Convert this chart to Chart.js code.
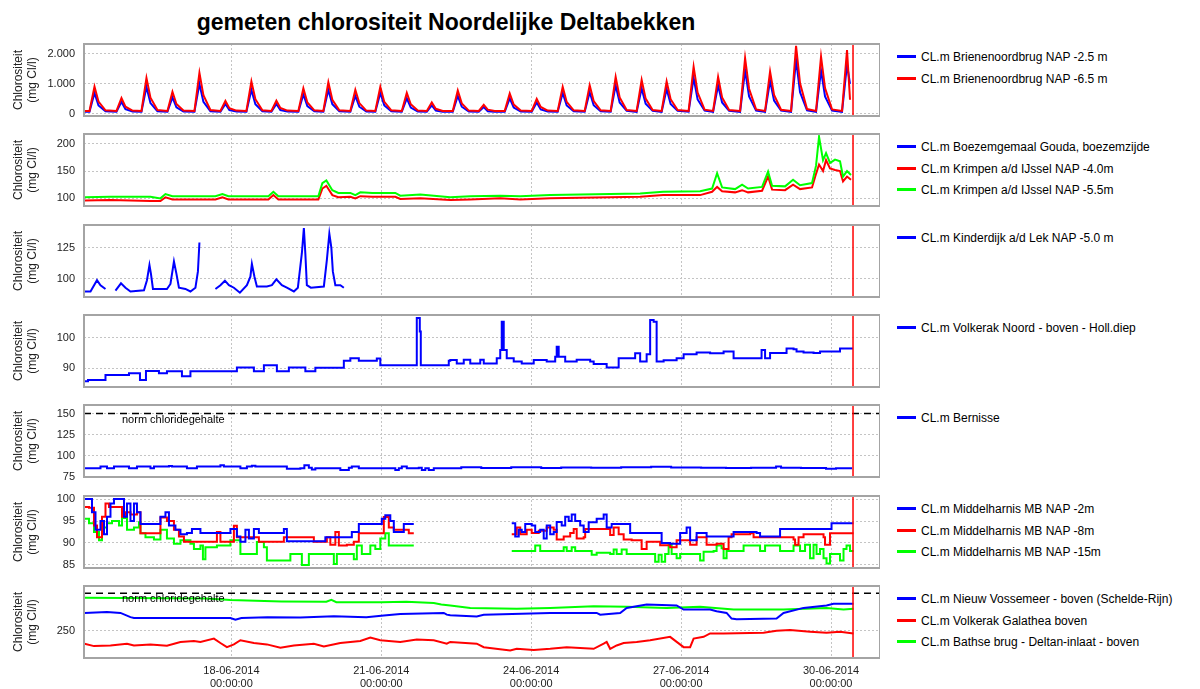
<!DOCTYPE html>
<html>
<head>
<meta charset="utf-8">
<script src="https://cdn.jsdelivr.net/npm/chart.js@4.4.1/dist/chart.umd.min.js"></script>
<style>
    body { margin: 0; width: 1200px; height: 689px; background: #fff; position: relative; overflow: hidden;
           font-family: "Liberation Sans", Arial, sans-serif; }
    #title { position: absolute; left: 0; top: 8px; width: 892px; text-align: center;
             font-size: 23px; font-weight: bold; line-height: 28px; color: #000; }
    .leg { position: absolute; left: 897px; height: 16px; line-height: 16px; font-size: 12px; color: #000; white-space: nowrap; }
    .leg i { display: inline-block; width: 19px; height: 3px; vertical-align: middle; margin: -2px 5px 0 0; }
</style>
</head>
<body>
<div id="title">gemeten chlorositeit Noordelijke Deltabekken</div>
<script>
(function () {
    'use strict';

    // time axis: days since 15-06-2014 00:00
    const dayMin = 0.05, dayMax = 15.98, nowDay = 15.44;
    const xTickDays = [3, 6, 9, 12, 15];
    const xTickLabels = [
        ['18-06-2014', '00:00:00'], ['21-06-2014', '00:00:00'], ['24-06-2014', '00:00:00'],
        ['27-06-2014', '00:00:00'], ['30-06-2014', '00:00:00']
    ];

    // Brienenoordbrug
    const brienenT = [0.06,
        0.16, 0.26, 0.34, 0.48, 0.70, 0.80, 0.88, 1.02, 1.20, 1.30, 1.38, 1.52, 1.72, 1.82, 1.90, 2.04,
        2.26, 2.36, 2.44, 2.58, 2.78, 2.88, 2.96, 3.10, 3.30, 3.40, 3.48, 3.62, 3.80, 3.90, 3.98, 4.12,
        4.34, 4.44, 4.52, 4.66, 4.84, 4.94, 5.02, 5.16, 5.38, 5.48, 5.56, 5.70, 5.88, 5.98, 6.06, 6.20,
        6.41, 6.51, 6.59, 6.73, 6.91, 7.01, 7.09, 7.23, 7.43, 7.53, 7.61, 7.75, 7.95, 8.05, 8.13, 8.27,
        8.47, 8.57, 8.65, 8.79, 9.01, 9.11, 9.19, 9.33, 9.53, 9.63, 9.71, 9.85, 10.07, 10.17, 10.25, 10.39,
        10.59, 10.69, 10.77, 10.91, 11.11, 11.21, 11.29, 11.43, 11.61, 11.71, 11.79, 11.93,
        12.15, 12.25, 12.33, 12.47, 12.64, 12.74, 12.82, 12.96, 13.18, 13.28, 13.36, 13.50,
        13.68, 13.78, 13.86, 14.00, 14.20, 14.30, 14.38, 14.52, 14.70, 14.80, 14.88, 15.02,
        15.22, 15.32, 15.38];
    const brienen25 = [70,
        70, 700, 280, 90, 70, 400, 160, 80, 70, 900, 360, 90, 70, 550, 220, 80,
        70, 1000, 400, 90, 70, 330, 130, 80, 70, 800, 320, 90, 70, 330, 130, 80,
        70, 650, 260, 90, 70, 800, 320, 90, 70, 600, 240, 80, 70, 700, 280, 90,
        70, 520, 210, 80, 70, 280, 110, 70, 70, 600, 240, 80, 70, 230, 90, 70,
        70, 520, 210, 80, 70, 380, 150, 80, 70, 700, 280, 90, 70, 720, 290, 90,
        70, 950, 380, 100, 70, 850, 340, 100, 70, 830, 330, 100,
        70, 1200, 480, 110, 70, 950, 380, 100, 70, 1450, 580, 110,
        70, 1100, 440, 110, 70, 1800, 720, 120, 70, 1450, 580, 110,
        70, 1650, 1000];
    const brienen65 = [100,
        100, 910, 410, 120, 100, 530, 240, 110, 100, 1200, 540, 130, 100, 740, 330, 110,
        100, 1370, 620, 130, 100, 430, 190, 110, 100, 1080, 490, 120, 100, 440, 200, 110,
        100, 850, 380, 120, 100, 1050, 470, 120, 100, 800, 360, 110, 100, 900, 400, 120,
        100, 700, 320, 110, 100, 380, 170, 100, 100, 780, 350, 110, 100, 300, 140, 100,
        100, 680, 310, 110, 100, 500, 230, 110, 100, 900, 400, 120, 100, 950, 430, 120,
        100, 1230, 550, 130, 100, 1130, 510, 130, 100, 1080, 490, 130,
        100, 1570, 710, 140, 100, 1230, 550, 130, 100, 1860, 840, 150,
        100, 1410, 630, 140, 100, 2270, 1020, 160, 100, 1910, 860, 150,
        100, 2130, 470];

    // Krimpen a/d IJssel (Gouda has no data)
    const krimpenT = [0.06, 0.58, 1.38, 1.58, 1.68, 1.82, 2.68, 2.82, 2.94, 3.74, 3.84, 3.94, 4.74, 4.82, 4.90,
        5.02, 5.14, 5.38, 5.48, 5.58, 5.82, 6.28, 6.38, 6.78, 7.38, 7.78, 8.38, 8.78, 9.38, 9.98, 10.58,
        11.18, 11.64, 12.38, 12.62, 12.72, 12.82, 13.08, 13.22, 13.34, 13.62, 13.74, 13.82, 14.08, 14.24,
        14.38, 14.62, 14.70, 14.76, 14.84, 14.90, 14.98, 15.08, 15.18, 15.24, 15.32, 15.40];
    const krimpen55 = [102, 103, 103, 100, 108, 104, 104, 108, 104, 104, 112, 104, 104, 128, 133,
        115, 110, 110, 106, 111, 110, 110, 105, 107, 102, 104, 105, 104, 106, 107, 108,
        109, 112, 113, 118, 146, 120, 117, 125, 118, 121, 149, 123, 122, 134,
        124, 128, 160, 213, 170, 183, 165, 171, 168, 140, 150, 143];
    const krimpen40 = [96, 97, 95, 95, 102, 98, 98, 102, 98, 98, 106, 98, 98, 118, 123,
        106, 102, 103, 100, 104, 103, 103, 99, 100, 97, 98, 100, 98, 100, 101, 102,
        103, 106, 106, 112, 121, 113, 111, 115, 111, 114, 140, 116, 115, 125,
        117, 120, 145, 162, 150, 170, 155, 152, 150, 131, 140, 134];

    // Kinderdijk
    const kinderT = [0.06, 0.18, 0.31, 0.38, 0.48, 0.55, 0.68, 0.79, 0.88, 0.98, 1.25, 1.31, 1.36, 1.39, 1.43,
        1.71, 1.78, 1.85, 1.90, 1.95, 2.08, 2.18, 2.28, 2.33, 2.36, 2.6, 2.68, 2.78, 2.87, 2.95, 3.05, 3.17,
        3.31, 3.38, 3.41, 3.46, 3.51, 3.71, 3.81, 3.90, 4.01, 4.11, 4.25, 4.33, 4.41, 4.45, 4.48, 4.51,
        4.59, 4.85, 4.91, 4.96, 5.00, 5.03, 5.08, 5.18, 5.25];
    const kinderV = [90, 90, 99, 95, 92, null, 90.7, 96.5, 93, 90, 91, 99, 111, 104, 92,
        92, 96, 114, 104, 93, 92, 90, 93, 106, 129, null, 92, 95, 98.6, 95, 93, 89,
        95, 101.8, 112, 102, 94, 94, 95, 99.7, 95, 93, 90, 93, 120.5, 140.5, 120, 95,
        93, 94, 115, 136, 125, 106, 95, 95, 93];

    // Volkerak Noord
    const volkT = [0.06, 0.13, 0.48, 0.95, 1.17, 1.29, 1.55, 1.71, 2.01, 2.18, 3.11, 3.45, 3.65, 3.91, 4.15,
        4.48, 4.68, 5.25, 5.38, 5.55, 5.91, 5.98, 6.68, 6.71, 6.77, 6.79, 7.31, 7.35, 7.38, 7.51, 7.65,
        7.78, 7.98, 8.05, 8.31, 8.38, 8.41, 8.45, 8.51, 8.65, 8.81, 9.05, 9.31, 9.48, 9.51, 9.55, 9.68,
        9.91, 10.18, 10.25, 10.51, 10.71, 10.75, 11.08, 11.18, 11.31, 11.38, 11.45, 11.51, 11.65, 11.91,
        12.05, 12.31, 12.58, 12.85, 13.05, 13.58, 13.61, 13.68, 13.78, 14.05, 14.11, 14.25, 14.31, 14.45,
        14.65, 14.78, 15.18, 15.44];
    const volkV = [85.8, 86.2, 87.8, 88.4, 86.2, 89.1, 88.4, 89, 87.4, 89, 90.3, 89, 91, 89, 90.3,
        89, 90.2, 92.5, 93.3, 92.5, 93.2, 91, 91, 106.4, 102, 91, 91, 92.5, 92.7, 91.6, 92.8,
        91.6, 92.8, 91.6, 93.3, 96, 105.2, 96, 93.3, 92.2, 91.6, 92.7, 92.2, 93.8, 97, 93.8, 92.2,
        92.8, 92.2, 91.4, 90.3, 90.3, 93.3, 94.9, 92.2, 94.6, 105.8, 105.2, 92.2, 92.6, 93.3,
        94.6, 95.2, 94.9, 95.5, 93.3, 93.3, 96, 93.3, 95, 95, 96.5, 96.2, 95.5, 95.2,
        95, 95.5, 96.5, 96.5];

    // Bernisse
    const bernT = [0.06, 0.38, 0.51, 0.65, 0.95, 1.11, 1.38, 1.45, 1.75, 1.81, 2.11, 2.31, 2.78, 2.85, 3.18,
        3.31, 3.41, 3.48, 4.05, 4.11, 4.38, 4.46, 4.55, 4.61, 4.68, 5.11, 5.18, 5.35, 5.41, 5.55, 6.25,
        6.28, 6.35, 6.41, 6.51, 6.75, 6.81, 6.88, 6.95, 7.05, 7.38, 7.6, 8.0, 8.6, 9.2, 9.6, 10.2, 10.8,
        11.4, 11.8, 12.4, 12.9, 13.4, 13.9, 14.0, 14.4, 14.9, 15.1, 15.42];
    const bernV = [85.4, 87.4, 85.4, 87.4, 85.4, 87.4, 85.4, 87.4, 88.1, 87.4, 85.4, 87.4, 88.9, 87.4, 85.4,
        87.4, 88.3, 87.4, 87.4, 84.6, 85.4, 88.9, 86, 83.8, 85.4, 85.4, 83.4, 86, 87.4, 85.4, 85.4,
        83.4, 85.4, 87.4, 85.4, 86, 83.4, 85.4, 83.4, 85.4, 85.4, 86.5, 85.5, 86.5, 85.5, 86.3, 85.8, 86.5,
        87, 86.3, 86, 85.5, 86, 87.5, 86, 85.5, 84.8, 85.3, 85.3];
    const normBernisse = 150;

    // Middelharnis
    const mh2T = [0.06, 0.15, 0.21, 0.28, 0.38, 0.45, 0.51, 0.58, 0.65, 0.78, 0.85, 0.91, 0.98, 1.05, 1.11,
        1.18, 1.51, 1.58, 1.68, 1.75, 1.88, 1.98, 2.11, 2.21, 2.38, 2.91, 2.98, 3.11, 3.18, 3.28, 3.35,
        3.45, 3.55, 3.91, 4.05, 4.11, 4.78, 4.88, 5.31, 5.41, 5.55, 6.01, 6.08, 6.18, 6.25, 6.45, 6.65, 7.5,
        8.61, 8.68, 8.75, 8.81, 8.88, 9.01, 9.08, 9.18, 9.25, 9.31, 9.38, 9.45, 9.51, 9.61, 9.68, 9.75,
        9.81, 9.88, 9.98, 10.05, 10.15, 10.31, 10.45, 10.51, 10.61, 10.85, 10.98, 11.51, 11.61, 11.78,
        11.98, 12.11, 12.18, 12.31, 12.51, 13.05, 13.51, 13.58, 13.95, 13.98, 14.91, 15.01, 15.45];
    const mh2V = [100, 100, 97, 93, 95, 92, 96, 99, 100, 100, 96, 99, 95, 99, 97,
        94.3, 94.3, 96, 97, 94, 93, 92, 92.3, 93.2, 92.3, 92.3, 93.2, 91.5, 90.3, 93, 91,
        93.2, 92.3, 92.3, 93.2, 90.4, 90.4, 91.3, 91.3, 92.5, 94.3, 95.5, 96.3, 95, 92.5, 94.3, 94.3, null,
        94.5, 91.5, 93, 92.5, 94.3, 94, 92.5, 93, 91, 94, 92, 92.5, 94.8, 94, 96, 95,
        96.5, 95, 94, 92.5, 94.7, 95.5, 96.5, 93.5, 94.3, 94.3, 92.3, 92.3, 90, 89.8,
        92.3, 93.5, 90.6, 92.3, 91.5, 92.5, 92.3, 91.5, 91.5, 93.2, 93.2, 94.5, 94.5];
    const mh8T = [0.06, 0.15, 0.25, 0.31, 0.41, 0.48, 0.55, 0.71, 0.81, 0.88, 0.98, 1.11, 1.18, 1.45, 1.58,
        1.71, 1.85, 1.95, 2.05, 2.65, 2.71, 2.78, 2.98, 3.05, 3.11, 3.45, 3.55, 3.98, 4.05, 4.58, 4.65,
        4.91, 4.98, 5.08, 5.15, 5.31, 5.45, 5.55, 6.05, 6.15, 6.25, 6.55, 6.65, 7.5,
        8.61, 8.71, 8.78, 8.91, 9.01, 9.15, 9.31, 9.45, 9.51, 9.65, 9.78, 9.85, 9.91, 10.05, 10.08,
        10.51, 10.58, 10.65, 10.75, 10.85, 11.01, 11.21, 11.31, 11.51, 11.58, 11.78, 11.91, 12.05, 12.18,
        12.31, 12.51, 12.71, 12.85, 12.95, 13.01, 13.38, 13.45, 13.91, 14.25, 14.28, 14.35, 14.45, 14.85,
        14.88, 14.98, 15.45];
    const mh8V = [98.2, 98, 94, 91.3, 96, 99, 98.2, 98.2, 96, 97, 96.5, 97, 92.2, 92.2, 95.8,
        95, 93, 91.5, 90.3, 90.3, 92.5, 90.3, 90.3, 93.9, 91.3, 91.3, 90.3, 90.3, 91.3, 91.3, 90.3,
        91.3, 89.6, 92.5, 89.4, 89.6, 90.3, 92.2, 95.9, 93.5, 93, 92.2, 92.2, null,
        92, 93.5, 92, 93, 92.3, 92.8, 93.5, 93, 90.8, 91.5, 92.3, 93.2, 91, 91.3, 93.2,
        93.2, 91.8, 93.5, 92, 90.8, 90.6, 88.6, 90.3, 90.3, 89.5, 89, 90.6, 90.6, 89.6,
        91.3, 89.6, 89.8, 88.6, 91.3, 92, 92.2, 91.3, 91.3, 90.8, 89.6, 91.3, 92, 91.3,
        89.6, 92.2, 92.2];
    const mh15T = [0.06, 0.15, 0.25, 0.35, 0.41, 0.51, 0.61, 0.75, 0.81, 0.91, 1.05, 1.15, 1.18, 1.28, 1.45,
        1.58, 1.71, 1.85, 1.98, 2.18, 2.25, 2.38, 2.43, 2.48, 2.71, 2.98, 3.11, 3.18, 3.45, 3.51, 3.65,
        3.71, 3.98, 4.18, 4.38, 4.41, 4.5, 4.55, 4.98, 5.05, 5.11, 5.45, 5.51, 5.61, 5.78, 5.88, 5.98,
        6.08, 6.15, 6.65, 7.5,
        8.61, 9.01, 9.08, 9.18, 9.61, 9.65, 9.71, 9.81, 9.88, 10.18, 10.21, 10.31, 10.58, 10.65, 10.71,
        10.81, 10.91, 11.45, 11.48, 11.55, 11.61, 11.68, 11.75, 11.81, 11.91, 11.98, 12.35, 12.38, 12.45,
        12.65, 12.71, 12.81, 12.85, 12.91, 13.18, 13.25, 13.51, 13.58, 13.68, 13.91, 13.98, 14.18, 14.25,
        14.38, 14.48, 14.58, 14.65, 14.71, 14.78, 14.85, 14.91, 14.98, 15.15, 15.18, 15.25, 15.31, 15.38,
        15.45];
    const mh15V = [95.5, 94.5, 92.5, 90.6, 93.5, 94.5, 95, 94, 95.7, 93, 93.5, 94.7, 92.2, 91.3, 90.8,
        93, 91, 89.8, 90.6, 89.8, 88.6, 89.4, 86.3, 89, 89.4, 90.6, 90.6, 87.5, 87.5, 90.2, 89,
        86, 86, 87.5, 87.5, 85, 85, 87.5, 87.5, 85.2, 87.5, 86.3, 89.4, 87.5, 89.4, 88.6, 91,
        92.2, 89.4, 89.4, null,
        88.2, 88.2, 89.4, 88.2, 88.2, 89, 88.2, 89, 88.2, 88.2, 87.3, 87.8, 87.5, 88.5, 87.5,
        88.5, 87.5, 87.5, 85.7, 87.3, 85.7, 87.5, 89.6, 87.5, 86.5, 87.5, 87.5, 86, 88,
        88.2, 89.4, 88.8, 86.5, 88.2, 88.2, 89.4, 89.4, 88.2, 89.4, 89.4, 88.2, 88.2, 89.4,
        88.2, 89.6, 86.5, 89.6, 87.5, 88.6, 86.5, 85.3, 87.5, 87.5, 86, 88.6, 89.4, 88.2,
        88.2];

    // Nieuw Vossemeer / Galathea / Bathse brug
    const vosseT = [0.06, 0.51, 0.78, 0.98, 1.05, 2.98, 3.08, 3.2, 3.72, 4.38, 5.05, 5.7, 6.05, 6.38, 7.25,
        7.31, 7.38, 7.91, 8.05, 9.38, 10.31, 10.38, 10.78, 10.91, 11.31, 11.91, 12.05, 12.58, 12.71, 12.91,
        13.01, 13.11, 13.91, 14.05, 14.45, 14.91, 15.05, 15.45];
    const vosseV = [273.7, 275, 273.7, 268.1, 267, 267, 264.6, 267, 268.1, 267.6, 269.2, 268, 270.2, 272.2, 273.7,
        271.4, 270.6, 269.1, 271.4, 273.7, 273.7, 271.4, 273.7, 280.4, 284.9, 283.6, 278.2, 278.2, 275.9, 273.7,
        266.2, 265.3, 266.2, 273.7, 280.4, 283.6, 285.8, 285.8];
    const galT = [0.06, 0.25, 0.58, 0.91, 1.05, 1.38, 1.71, 1.98, 2.25, 2.38, 2.65, 2.78, 2.91, 3.05, 3.18,
        3.45, 3.71, 3.98, 4.25, 4.65, 4.85, 5.18, 5.58, 5.78, 5.98, 6.38, 6.71, 7.05, 7.31, 7.38, 7.91,
        8.05, 8.58, 8.71, 9.05, 9.38, 9.71, 10.25, 10.45, 10.51, 10.58, 10.71, 10.85, 11.11, 11.38, 11.78,
        12.05, 12.18, 12.25, 12.45, 12.58, 12.85, 13.65, 13.91, 14.18, 14.58, 14.91, 15.18, 15.45];
    const galV = [232.8, 229.6, 230.5, 232.8, 230.5, 231.9, 230.1, 235.1, 236.5, 235.1, 239.6, 233.7, 228.2, 231.9, 237.4,
        233.7, 231.9, 227.3, 230.5, 232.8, 229.1, 233.7, 236.5, 241, 237.4, 235.1, 238.3, 237.4, 232.8, 235.1, 232.8,
        228.2, 223.7, 226, 224.6, 226, 228.2, 226, 232.8, 235.1, 226, 230.5, 233.7, 235.1, 237.4, 241.9,
        228.2, 228.2, 239.6, 241.9, 246.5, 246.5, 247.4, 250.1, 251, 248.8, 247.4, 248.8, 246.5];
    const bathT = [0.06, 2.5, 2.98, 4.0, 4.9, 5.0, 5.1, 6.0, 6.5, 7.05, 7.2, 7.38, 7.78, 8.71, 9.38, 10.25,
        10.91, 11.71, 12.38, 13.05, 14.05, 14.91, 15.25, 15.45];
    const bathV = [294, 293, 291, 289, 288.5, 291, 288, 288, 288.5, 287, 285, 283.6, 280.4, 279.1, 280.4, 282.7,
        281.8, 280.4, 281.8, 278.2, 278.2, 280.4, 278.2, 279.1];
    const normDelta = 300;

    const BLUE = '#0000ff', RED = '#ff0000', GREEN = '#00ff00';
    const FONT = '"Liberation Sans", Arial, sans-serif';

    function series(t, v) {
        return t.map((x, i) => ({ x: x, y: v[i] }));
    }

    const panels = [
        { top: 44, min: -70, max: 2330, ticks: [0, 1000, 2000], labels: ['0', '1.000', '2.000'], stepped: false,
          sets: [
              { name: 'CL.m Brienenoordbrug NAP -2.5 m', color: BLUE, order: 2, data: series(brienenT, brienen25) },
              { name: 'CL.m Brienenoordbrug NAP -6.5 m', color: RED, order: 1, data: series(brienenT, brienen65) }
          ] },
        { top: 134, min: 86, max: 218, ticks: [100, 150, 200], labels: ['100', '150', '200'], stepped: false,
          sets: [
              { name: 'CL.m Boezemgemaal Gouda, boezemzijde', color: BLUE, order: 3, data: [] },
              { name: 'CL.m Krimpen a/d IJssel NAP -4.0m', color: RED, order: 2, data: series(krimpenT, krimpen40) },
              { name: 'CL.m Krimpen a/d IJssel NAP -5.5m', color: GREEN, order: 1, data: series(krimpenT, krimpen55) }
          ] },
        { top: 225, min: 85.6, max: 143, ticks: [100, 125], labels: ['100', '125'], stepped: false,
          sets: [
              { name: 'CL.m Kinderdijk a/d Lek NAP -5.0 m', color: BLUE, order: 1, data: series(kinderT, kinderV) }
          ] },
        { top: 315, min: 83.9, max: 107.4, ticks: [90, 100], labels: ['90', '100'], stepped: true,
          sets: [
              { name: 'CL.m Volkerak Noord - boven - Holl.diep', color: BLUE, order: 1, data: series(volkT, volkV) }
          ] },
        { top: 405, min: 75, max: 160, ticks: [75, 100, 125, 150], labels: ['75', '100', '125', '150'], stepped: true,
          norm: normBernisse,
          sets: [
              { name: 'CL.m Bernisse', color: BLUE, order: 1, data: series(bernT, bernV) }
          ] },
        { top: 496, min: 84.3, max: 100.7, ticks: [85, 90, 95, 100], labels: ['85', '90', '95', '100'], stepped: true,
          sets: [
              { name: 'CL.m Middelharnis MB NAP -2m', color: BLUE, order: 1, data: series(mh2T, mh2V) },
              { name: 'CL.m Middelharnis MB NAP -8m', color: RED, order: 2, data: series(mh8T, mh8V) },
              { name: 'CL.m Middelharnis MB NAP -15m', color: GREEN, order: 3, data: series(mh15T, mh15V) }
          ] },
        { top: 586, min: 213.8, max: 309.5, ticks: [250], labels: ['250'], stepped: false,
          norm: normDelta,
          sets: [
              { name: 'CL.m Nieuw Vossemeer - boven (Schelde-Rijn)', color: BLUE, order: 1, data: series(vosseT, vosseV) },
              { name: 'CL.m Volkerak Galathea boven', color: RED, order: 3, data: series(galT, galV) },
              { name: 'CL.m Bathse brug - Deltan-inlaat - boven', color: GREEN, order: 2, data: series(bathT, bathV) }
          ] }
    ];

    /**
     * Frame, "now" line and norm line
     */
    const panelDeco = {
        id: 'panelDeco',
        afterDatasetsDraw(chart, args, opts) {
            const { ctx, chartArea: a, scales } = chart;
            ctx.save();
            if (opts.norm != null) {
                const y = scales.y.getPixelForValue(opts.norm);
                ctx.strokeStyle = '#000';
                ctx.lineWidth = 1.5;
                ctx.setLineDash([7, 5]);
                ctx.beginPath();
                ctx.moveTo(a.left, y);
                ctx.lineTo(a.right, y);
                ctx.stroke();
                ctx.setLineDash([]);
                ctx.fillStyle = '#000';
                ctx.font = '11px ' + FONT;
                ctx.textBaseline = 'middle';
                ctx.fillText('norm chloridegehalte', a.left + 38, y + 6);
            }
            const nx = scales.x.getPixelForValue(opts.now);
            ctx.strokeStyle = '#ff0000';
            ctx.lineWidth = 1.5;
            ctx.beginPath();
            ctx.moveTo(nx, a.top);
            ctx.lineTo(nx, a.bottom);
            ctx.stroke();
            ctx.strokeStyle = '#a4a4a4';
            ctx.lineWidth = 2;
            ctx.strokeRect(a.left, a.top, a.right - a.left, a.bottom - a.top);
            ctx.restore();
        }
    };

    const PLOT_H = 72;   // height of each plot area

    function chartConfig(p, last) {
        return {
            type: 'line',
            data: {
                datasets: p.sets.map(s => ({
                    label: s.name,
                    data: s.data,
                    borderColor: s.color,
                    backgroundColor: s.color,
                    borderWidth: 2,
                    pointRadius: 0,
                    tension: 0,
                    stepped: p.stepped,
                    spanGaps: false,
                    order: s.order
                }))
            },
            options: {
                responsive: false,
                maintainAspectRatio: false,
                devicePixelRatio: 1,
                animation: false,
                events: [],
                layout: { padding: 0 },
                plugins: {
                    legend: { display: false },
                    tooltip: { enabled: false },
                    panelDeco: { now: nowDay, norm: p.norm }
                },
                scales: {
                    x: {
                        type: 'linear',
                        min: dayMin,
                        max: dayMax,
                        afterBuildTicks: s => { s.ticks = xTickDays.map(v => ({ value: v })); },
                        afterFit: s => { s.height = last ? 31 : 0; },
                        grid: { color: '#c4c4c4', drawTicks: false },
                        border: { display: false, dash: [2, 2] },
                        ticks: {
                            display: last,
                            autoSkip: false,
                            maxRotation: 0,
                            padding: 6,
                            color: '#222',
                            font: { family: FONT, size: 11 },
                            callback: (v, i) => xTickLabels[i]
                        }
                    },
                    y: {
                        min: p.min,
                        max: p.max,
                        afterBuildTicks: s => { s.ticks = p.ticks.map(v => ({ value: v })); },
                        afterFit: s => { s.width = 84; },
                        grid: { color: '#c4c4c4', drawTicks: false },
                        border: { display: false, dash: [2, 2] },
                        ticks: {
                            padding: 9,
                            color: '#222',
                            font: { family: FONT, size: 11, lineHeight: '12px' },
                            callback: (v, i) => p.labels[i]
                        },
                        title: {
                            display: true,
                            text: ['Chlorositeit', '(mg Cl/l)'],
                            color: '#222',
                            font: { family: FONT, size: 12 },
                            padding: { top: 11, bottom: 0 }
                        }
                    }
                }
            },
            plugins: [panelDeco]
        };
    }

    function makePanel(p, last) {
        const canvas = document.createElement('canvas');
        canvas.width = 880;
        canvas.height = 140;
        canvas.style.cssText = 'position:absolute;left:0;top:0';
        document.body.appendChild(canvas);

        // first pass: find how much room the layout keeps above and below the plot
        let chart = new Chart(canvas, chartConfig(p, last));
        const gapTop = chart.chartArea.top;
        const gapBottom = 140 - chart.chartArea.bottom;
        chart.destroy();

        canvas.width = 880;
        canvas.height = Math.round(gapTop + PLOT_H + gapBottom);
        canvas.style.top = Math.round(p.top - gapTop) + 'px';
        chart = new Chart(canvas, chartConfig(p, last));

        // legend on the right
        p.sets.forEach((s, i) => {
            const el = document.createElement('div');
            el.className = 'leg';
            el.style.top = (p.top + 5 + i * 21.5) + 'px';
            el.innerHTML = '<i style="background:' + s.color + '"></i>';
            el.appendChild(document.createTextNode(s.name));
            document.body.appendChild(el);
        });
    }

    panels.forEach((p, k) => makePanel(p, k === panels.length - 1));
})();
</script>
</body>
</html>
